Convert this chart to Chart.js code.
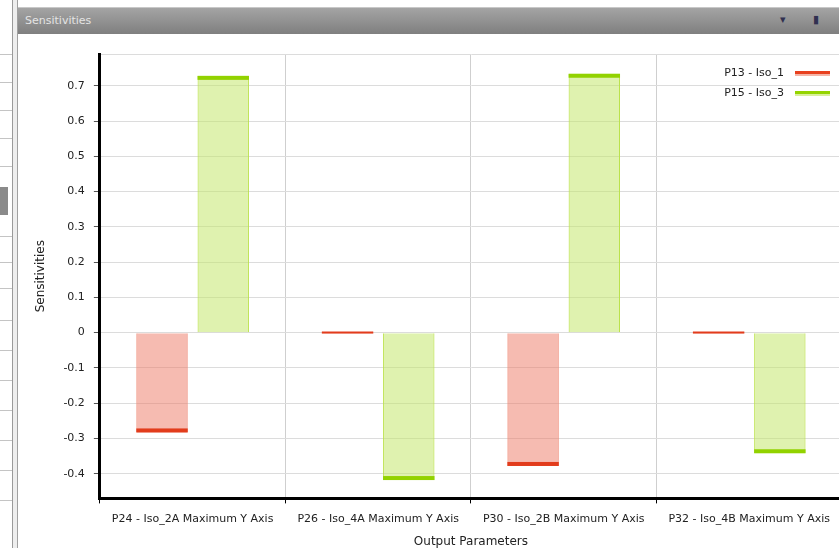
<!DOCTYPE html>
<html>
<head>
<meta charset="utf-8">
<script src="https://cdn.jsdelivr.net/npm/chart.js@4"></script>
<style>
    html, body { margin: 0; padding: 0; width: 839px; height: 548px; overflow: hidden; background: #fff; font-family: "DejaVu Sans", sans-serif; }
    .side-panel { position: absolute; left: 0; top: 0; width: 12px; height: 548px; background: #fff; border-right: 1px solid #9a9a9a; }
    .side-panel .row { position: absolute; left: 0; width: 12px; height: 1px; background: #c4c4c4; }
    .side-panel .thumb { position: absolute; left: 0; top: 187px; width: 8px; height: 28px; background: #8a8a8a; }
    .divider { position: absolute; left: 13px; top: 0; width: 4px; height: 548px; background: #eeeeee; border-right: 1px solid #a0a0a0; }
    .title-bar { position: absolute; left: 18px; top: 7px; width: 821px; height: 26px; background: linear-gradient(#a4a4a4, #7f7f7f); border-top: 1px solid #c8c8c8; }
    .title-bar span { position: absolute; left: 7px; top: 6px; font-size: 11px; color: #e4e4e4; }
    .title-bar .icons { position: absolute; right: 8px; top: 5px; font-size: 11px; color: #303050; letter-spacing: 12px; }
    .chart-box { position: absolute; left: 18px; top: 35px; width: 824px; height: 514px; }
    .legend { position: absolute; right: 9px; top: 62px; font-size: 11px; color: #222; }
    .legend .item { display: flex; align-items: center; justify-content: flex-end; height: 20px; }
    .legend .swatch { width: 35px; height: 3px; margin-left: 11px; }
</style>
</head>
<body>
<div class="side-panel">
    <div class="row" style="top:54px"></div><div class="row" style="top:82px"></div>
    <div class="row" style="top:110px"></div><div class="row" style="top:138px"></div>
    <div class="row" style="top:166px"></div><div class="thumb"></div>
    <div class="row" style="top:236px"></div><div class="row" style="top:262px"></div>
    <div class="row" style="top:288px"></div><div class="row" style="top:320px"></div>
    <div class="row" style="top:350px"></div><div class="row" style="top:380px"></div>
    <div class="row" style="top:410px"></div><div class="row" style="top:440px"></div>
    <div class="row" style="top:470px"></div><div class="row" style="top:500px"></div>
</div>
<div class="divider"></div>
<div class="title-bar"><span>Sensitivities</span><div class="icons">▾ ▮</div></div>
<div class="chart-box"><canvas id="sensChart"></canvas></div>
<div class="legend">
    <div class="item">P13 - Iso_1<div class="swatch" style="background:#e8401e; box-shadow:0 2px 0 #f5b4a6"></div></div>
    <div class="item">P15 - Iso_3<div class="swatch" style="background:#94d400; box-shadow:0 2px 0 #d8f09a"></div></div>
</div>
<script>
// chart data
const categories = [
    'P24 - Iso_2A Maximum Y Axis',
    'P26 - Iso_4A Maximum Y Axis',
    'P30 - Iso_2B Maximum Y Axis',
    'P32 - Iso_4B Maximum Y Axis'
];
const iso1Values = [-0.283, 0.003, -0.378, 0.003];
const iso3Values = [0.728, -0.418, 0.734, -0.342];
const yTickValues = [0.79, 0.7, 0.6, 0.5, 0.4, 0.3, 0.2, 0.1, 0, -0.1, -0.2, -0.3, -0.4];

const yMin = -0.47;
const yMax = 0.79;

// draws the thick coloured strip at the value end of each bar
const barEndStrip = {
    id: 'barEndStrip',
    afterDatasetsDraw(chart) {
        const ctx = chart.ctx;
        chart.data.datasets.forEach((ds, i) => {
            const meta = chart.getDatasetMeta(i);
            meta.data.forEach((bar, j) => {
                const value = ds.data[j];
                const h = Math.max(2, Math.min(4, Math.abs(bar.base - bar.y)));
                ctx.save();
                ctx.fillStyle = ds.stripColor;
                if (value < 0) {
                    ctx.fillRect(bar.x - bar.width / 2, bar.y - h, bar.width, h);
                } else {
                    ctx.fillRect(bar.x - bar.width / 2, bar.y, bar.width, h);
                }
                ctx.restore();
            });
        });
    }
};

const chartConfig = {
    type: 'bar',
    data: {
        labels: categories,
        datasets: [{
            label: 'P13 - Iso_1',
            data: iso1Values,
            backgroundColor: 'rgba(238, 125, 105, 0.52)',
            borderColor: '#ef8a76',
            borderWidth: 1,
            stripColor: '#e23c1c',
            categoryPercentage: 0.66,
            barPercentage: 0.84
        }, {
            label: 'P15 - Iso_3',
            data: iso3Values,
            backgroundColor: 'rgba(196, 232, 110, 0.55)',
            borderColor: '#bce24c',
            borderWidth: 1,
            stripColor: '#92d200',
            categoryPercentage: 0.66,
            barPercentage: 0.84
        }]
    },
    options: {
        responsive: true,
        maintainAspectRatio: false,
        animation: false,
        layout: {
            padding: { top: 19, left: 8, right: 0, bottom: 0 }
        },
        plugins: {
            legend: { display: false },
            tooltip: { enabled: false }
        },
        scales: {
            x: {
                grid: {
                    color: '#cfcfcf',
                    offset: true,
                    tickLength: 5,
                    tickColor: '#000'
                },
                border: { color: '#000', width: 3 },
                ticks: {
                    color: '#222',
                    font: { family: 'DejaVu Sans', size: 11 },
                    maxRotation: 0,
                    autoSkip: false,
                    padding: 9
                },
                title: {
                    display: true,
                    text: 'Output Parameters',
                    color: '#222',
                    font: { family: 'DejaVu Sans', size: 12 },
                    padding: { top: 0, bottom: 0 }
                }
            },
            y: {
                min: yMin,
                max: yMax,
                afterBuildTicks: (scale) => {
                    scale.ticks = yTickValues.map(v => ({ value: v }));
                },
                grid: {
                    color: '#dcdcdc',
                    tickLength: 6,
                    tickColor: (c) => c.tick && c.tick.value === yMax ? 'rgba(0,0,0,0)' : '#555'
                },
                border: { color: '#000', width: 3 },
                ticks: {
                    color: '#222',
                    font: { family: 'DejaVu Sans', size: 11 },
                    padding: 9,
                    callback: (v) => v === yMax ? '' : String(v)
                },
                title: {
                    display: true,
                    text: 'Sensitivities',
                    color: '#222',
                    font: { family: 'DejaVu Sans', size: 12 },
                    padding: { top: 8, bottom: 6 }
                }
            }
        }
    },
    plugins: [barEndStrip]
};

const ctx = document.getElementById('sensChart').getContext('2d');
const sensChart = new Chart(ctx, chartConfig);
</script>
</body>
</html>
